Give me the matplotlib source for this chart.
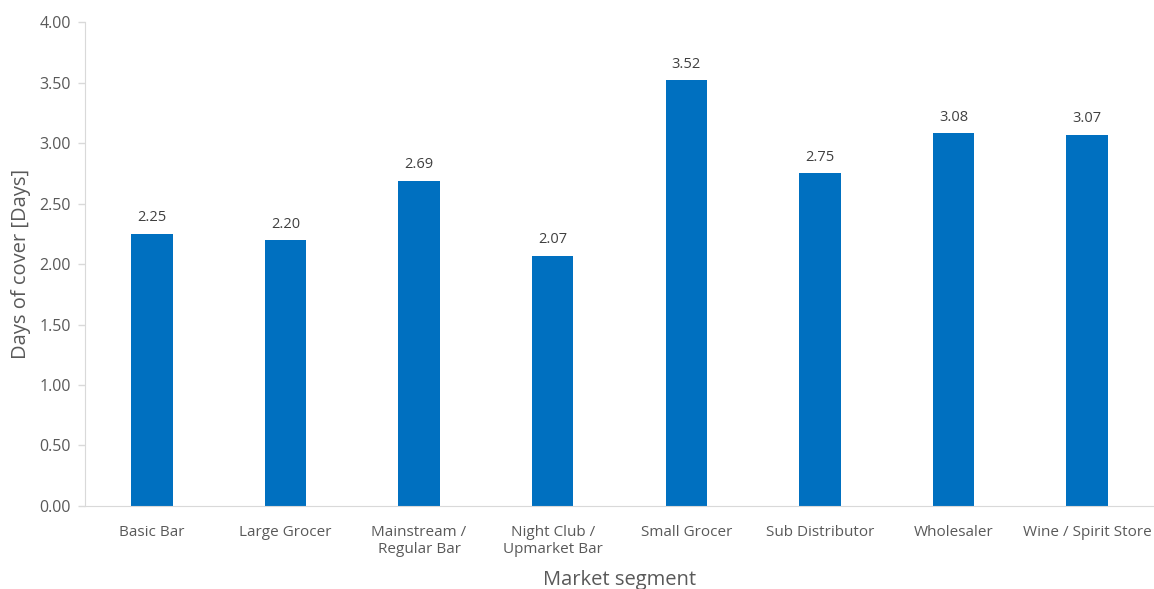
import matplotlib.pyplot as plt
import numpy as np

# market segments and average days of cover
segments = ["Basic Bar", "Large Grocer", "Mainstream /\nRegular Bar", "Night Club /\nUpmarket Bar",
            "Small Grocer", "Sub Distributor", "Wholesaler", "Wine / Spirit Store"]
days_cover = [2.25, 2.20, 2.69, 2.07, 3.52, 2.75, 3.08, 3.07]
y_ticks = [0.0, 0.5, 1.0, 1.5, 2.0, 2.5, 3.0, 3.5, 4.0]

plt.rcParams['font.family'] = ['Open Sans', 'DejaVu Sans']
text_grey = '#595959'

fig = plt.figure(figsize=(11.54, 5.89), dpi=100)
ax = fig.add_axes([0.0737, 0.141, 0.9263, 0.8214])

x = np.arange(len(segments))
bars = ax.bar(x, days_cover, width=0.31, color='#0070C0')

for xi, v in zip(x, days_cover):
    ax.annotate(f"{v:.2f}", (xi, v), xytext=(0, 6), textcoords='offset points',
                ha='center', va='bottom', fontsize=10.5, color='#404040')

ax.set_xlim(-0.5, len(segments) - 0.5)
ax.set_ylim(0, 4)
ax.set_yticks(y_ticks)
ax.set_yticklabels([f"{t:.2f}" for t in y_ticks])
ax.set_xticks(x)
ax.set_xticklabels(segments, linespacing=1.15)

ax.tick_params(axis='y', colors='#d9d9d9', labelcolor=text_grey, labelsize=11.5, length=5, width=1, pad=5)
ax.tick_params(axis='x', length=0, labelcolor=text_grey, labelsize=11, pad=14)

for side in ['top', 'right']:
    ax.spines[side].set_visible(False)
for side in ['left', 'bottom']:
    ax.spines[side].set_color('#d9d9d9')

ax.set_xlabel("Market segment", fontsize=14.5, color=text_grey, labelpad=9)
ax.set_ylabel("Days of cover [Days]", fontsize=14.5, color=text_grey, labelpad=6)

fig.savefig("out.png", dpi=100)
